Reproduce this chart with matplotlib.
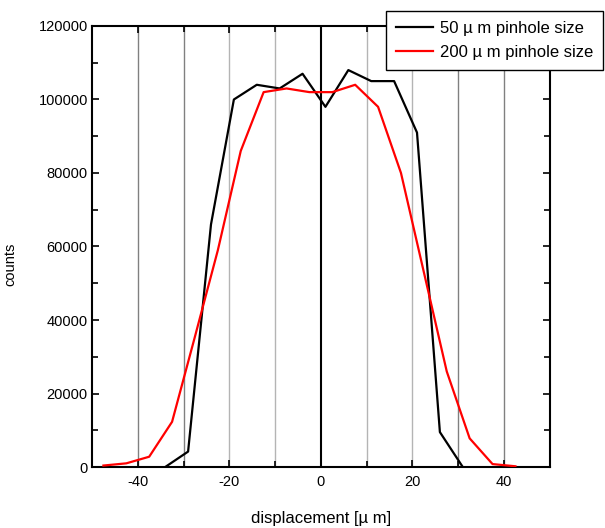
import numpy as np
import matplotlib
matplotlib.use("Agg")
from matplotlib import pyplot as plt
from matplotlib.ticker import MultipleLocator, FormatStrFormatter

plt.rcParams['font.family'] = ['Liberation Sans', 'DejaVu Sans']
plt.rcParams['axes.unicode_minus'] = False

# 50 um pinhole profile
x_50um = [-34, -29, -24, -19, -14, -9, -4, 1, 6, 11, 16, 21, 26, 31]
counts_50um = [0, 4200, 66000, 100000, 104000, 103000, 107000, 98000,
               108000, 105000, 105000, 91000, 9500, 0]

# 200 um pinhole profile
x_200um = [-47.5, -42.5, -37.5, -32.5, -27.5, -22.5, -17.5, -12.5, -7.5, -2.5,
           2.5, 7.5, 12.5, 17.5, 22.5, 27.5, 32.5, 37.5, 42.5]
counts_200um = [400, 1000, 2800, 12300, 35500, 59000, 86000, 102000, 103000,
                102000, 102000, 104000, 98000, 80000, 53000, 26000, 7800, 800, 200]

labels = ["50 \u00b5 m pinhole size", "200 \u00b5 m pinhole size"]

# vertical guide lines and their shades
grid_x = [-40, -30, -20, -10, 0, 10, 20, 30, 40]
grid_colors = ['#808080', '#808080', '#b4b4b4', '#b4b4b4', 'black',
               '#b4b4b4', '#b4b4b4', '#808080', '#808080']

fig = plt.figure(figsize=(6.05, 5.28), dpi=100)
ax = fig.add_axes([0.152, 0.1155, 0.7567, 0.8353])

for gx, gc in zip(grid_x, grid_colors):
    ax.axvline(gx, color=gc, lw=1.5 if gc == 'black' else 1.0, zorder=1)

ax.plot(x_50um, counts_50um, color='black', lw=1.6, label=labels[0], zorder=3)
ax.plot(x_200um, counts_200um, color='red', lw=1.6, label=labels[1], zorder=3)

ax.set_xlim(-50, 50)
ax.set_ylim(0, 120000)

ax.xaxis.set_major_locator(MultipleLocator(20))
ax.xaxis.set_minor_locator(MultipleLocator(10))
ax.yaxis.set_major_locator(MultipleLocator(20000))
ax.yaxis.set_minor_locator(MultipleLocator(10000))
ax.yaxis.set_major_formatter(FormatStrFormatter('%d'))

ax.tick_params(which='both', direction='in', top=True, right=True, width=1.2)
ax.tick_params(which='major', length=5)
ax.tick_params(which='minor', length=4)
ax.tick_params(axis='x', labelsize=10.5, pad=6)
ax.tick_params(axis='y', labelsize=10.5, pad=3)

for sp in ax.spines.values():
    sp.set_linewidth(1.5)

ax.set_xlabel("displacement [\u00b5 m]", fontsize=12)
ax.xaxis.set_label_coords(0.5, -0.1)
ax.set_ylabel("counts", fontsize=10.5)
ax.yaxis.set_label_coords(-0.163, 0.46)

leg = fig.legend(loc='upper right', bbox_to_anchor=(1.0, 0.983),
                 fontsize=12, frameon=True, fancybox=False, framealpha=1,
                 edgecolor='black', handlelength=2.2, handletextpad=0.45,
                 labelspacing=0.55, borderpad=0.6, borderaxespad=0.1)
leg.get_frame().set_linewidth(1.0)

fig.savefig("out.png", dpi=100)
